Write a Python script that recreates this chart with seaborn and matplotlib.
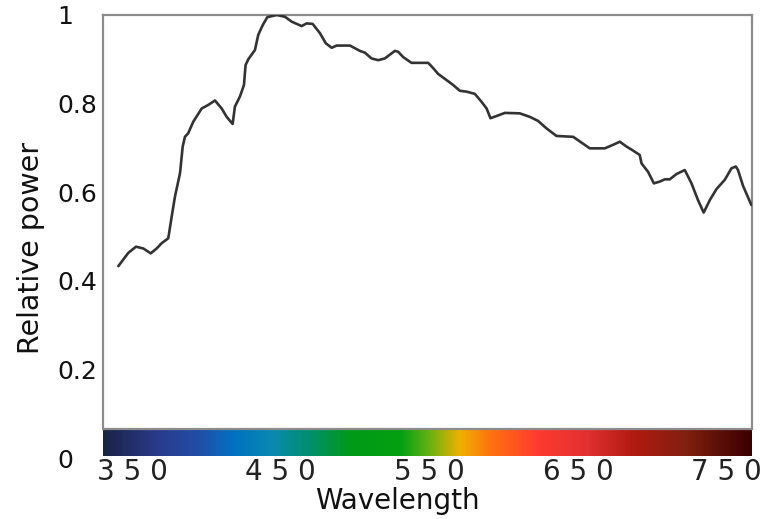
import numpy as np
import pandas as pd
import matplotlib
matplotlib.use("Agg")
import matplotlib.pyplot as plt
from matplotlib.colors import LinearSegmentedColormap
import seaborn as sns

# ---- data ----
wavelength = [340.8, 347.5, 352.7, 357.6, 362.6, 366.6, 370.0, 374.4, 376.7, 378.9,
              382.3, 384.1, 385.6, 387.8, 391.2, 396.9, 401.3, 405.8, 410.3, 413.7,
              417.7, 419.2, 422.6, 425.3, 426.4, 428.2, 432.7, 434.9, 437.9, 441.0,
              447.3, 452.9, 457.4, 464.1, 467.4, 471.5, 476.4, 480.4, 484.3, 487.6,
              496.6, 503.3, 506.6, 511.1, 515.6, 520.1, 526.8, 529.0, 532.4, 538.0,
              549.2, 552.6, 555.9, 561.6, 566.0, 570.5, 575.0, 580.6, 585.1, 588.5,
              591.1, 595.2, 600.8, 610.8, 617.6, 623.1, 628.8, 635.5, 646.7, 657.9,
              668.0, 673.6, 678.1, 682.6, 687.0, 691.5, 692.7, 697.1, 701.0, 705.0,
              708.3, 711.7, 716.2, 721.8, 726.3, 730.7, 734.5, 738.6, 743.1, 748.7,
              753.2, 756.1, 757.6, 761.0, 766.6]
relative_power = [0.433, 0.463, 0.477, 0.473, 0.462, 0.473, 0.485, 0.496, 0.545, 0.590,
                  0.643, 0.703, 0.725, 0.733, 0.759, 0.789, 0.797, 0.807, 0.789, 0.770,
                  0.754, 0.793, 0.816, 0.842, 0.887, 0.900, 0.921, 0.955, 0.977, 0.995,
                  1.000, 0.996, 0.985, 0.975, 0.981, 0.980, 0.959, 0.936, 0.926, 0.931,
                  0.931, 0.919, 0.915, 0.902, 0.898, 0.902, 0.919, 0.917, 0.905, 0.892,
                  0.892, 0.880, 0.867, 0.853, 0.842, 0.829, 0.827, 0.822, 0.804, 0.789,
                  0.767, 0.772, 0.779, 0.778, 0.770, 0.761, 0.744, 0.727, 0.725, 0.699,
                  0.699, 0.707, 0.714, 0.703, 0.694, 0.684, 0.665, 0.646, 0.620, 0.624,
                  0.629, 0.629, 0.641, 0.650, 0.620, 0.582, 0.554, 0.582, 0.607, 0.628,
                  0.654, 0.658, 0.650, 0.614, 0.571]

x_ticks = [350, 450, 550, 650, 750]
x_tick_labels = ["3 5 0", "4 5 0", "5 5 0", "6 5 0", "7 5 0"]
y_ticks = [0, 0.2, 0.4, 0.6, 0.8, 1.0]
y_tick_labels = ["0", "0.2", "0.4", "0.6", "0.8", "1"]

spectrum_colors = ["#1a2245", "#2a3a8a", "#1f50a8", "#0072c0", "#0a8ab0",
                   "#009068", "#009a18", "#05a010", "#60b010", "#f0b000",
                   "#ff7010", "#ff3a30", "#e03030", "#b01a10", "#802010", "#3a0000"]
spectrum_stops = [0.0, 0.08, 0.15, 0.2, 0.26, 0.32, 0.38, 0.46, 0.5, 0.55,
                  0.6, 0.67, 0.75, 0.82, 0.9, 1.0]

df = pd.DataFrame({"Wavelength": wavelength, "Relative power": relative_power})

sns.set_theme(style="white")
plt.rcParams["font.family"] = ["DejaVu Sans"]

fig = plt.figure(figsize=(7.61, 5.19), dpi=100)
ax = fig.add_axes([103 / 761, (519 - 458) / 519, 649 / 761, 443 / 519])

XMIN, XMAX = 330.5, 767.0
cmap = LinearSegmentedColormap.from_list("spec", list(zip(spectrum_stops, spectrum_colors)))
grad = np.linspace(0, 1, 512).reshape(1, -1)
ax.imshow(grad, cmap=cmap, aspect="auto", extent=[XMIN, XMAX, 0.0045, 0.0655],
          zorder=1, interpolation="bilinear")

sns.lineplot(data=df, x="Wavelength", y="Relative power", ax=ax,
             color="#333333", linewidth=1.9, zorder=3)

ax.set_xlim(XMIN, XMAX)
ax.set_ylim(0, 1.0)

spine_color = "#8c8c8c"
for s in ["left", "top", "right"]:
    ax.spines[s].set_color(spine_color)
    ax.spines[s].set_linewidth(1.6)
    ax.spines[s].set_visible(True)
ax.spines["bottom"].set_visible(False)
ax.spines["left"].set_bounds(0.066, 1.0)
ax.spines["right"].set_bounds(0.066, 1.0)
ax.axhline(0.066, color=spine_color, linewidth=1.6, zorder=2)

ax.set_xticks(x_ticks)
ax.set_xticklabels(x_tick_labels, fontsize=20, color="#222222")
ax.set_yticks(y_ticks)
ax.set_yticklabels(y_tick_labels, fontsize=18, color="#111111")
for lbl in ax.get_yticklabels():
    lbl.set_horizontalalignment("left")
ax.tick_params(axis="y", length=0, pad=33)
ax.tick_params(axis="x", length=0, pad=0)

ax.set_xlabel("Wavelength", fontsize=20, color="#111111")
ax.xaxis.set_label_coords((397.5 - 103) / 649, -0.066)
ax.set_ylabel("Relative power", fontsize=20.5, color="#111111", va="center")
ax.yaxis.set_label_coords((31 - 103) / 649, (458 - 248) / 443)

fig.savefig("out.png", dpi=100)
